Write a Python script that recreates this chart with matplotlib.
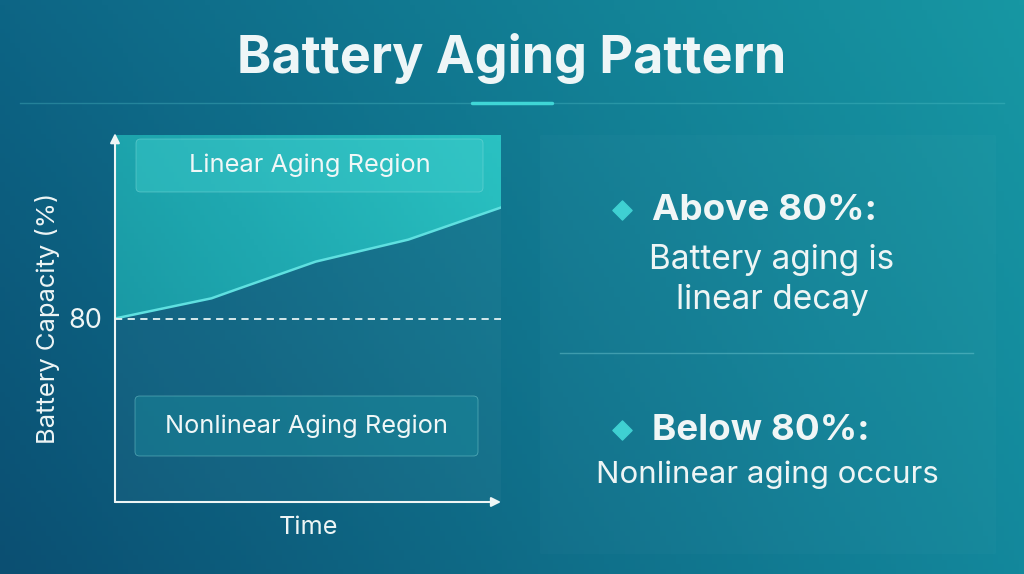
import numpy as np
import matplotlib.pyplot as plt
from matplotlib.patches import FancyBboxPatch, Rectangle, Polygon

plt.rcParams['font.family'] = ['Inter', 'DejaVu Sans']

# chart data
time = [0, 2.5, 3.1, 5.2, 7.6, 10]
capacity = [80, 82.2, 83.1, 86.2, 88.6, 92.1]
threshold = 80
y_range = (60, 100)
x_range = (0, 10)

title = "Battery Aging Pattern"
region_labels = ["Linear Aging Region", "Nonlinear Aging Region"]
bullet_heads = ["Above 80%:", "Below 80%:"]
bullet_texts = ["Battery aging is\nlinear decay", "Nonlinear aging occurs"]

W, H = 1024, 574
fig = plt.figure(figsize=(W / 100, H / 100), dpi=100)

# background gradient (pixel coords)
bg = fig.add_axes([0, 0, 1, 1])
bg.set_xlim(0, W)
bg.set_ylim(H, 0)
bg.axis('off')
tl, tr = np.array([13, 101, 133]), np.array([23, 151, 163])
bl, br = np.array([11, 79, 114]), np.array([19, 136, 156])
u = np.linspace(0, 1, 200)[None, :, None]
v = np.linspace(0, 1, 120)[:, None, None]
grad = (tl * (1 - u) * (1 - v) + tr * u * (1 - v) + bl * (1 - u) * v + br * u * v) / 255
bg.imshow(grad, extent=[0, W, H, 0], aspect='auto', zorder=0)

# title and separator
bg.text(W / 2, 58, title, ha='center', va='center', fontsize=37.5,
        fontweight='bold', color='#eef6f7')
bg.plot([20, 1004], [103, 103], color='#5cc9cf', lw=1, alpha=0.3)
bg.plot([472, 552], [103, 103], color='#3fd6d6', lw=2.5, solid_capstyle='round')

# right info panel
bg.add_patch(Rectangle((540, 135), 455, 418, facecolor='white', alpha=0.02,
                       edgecolor='white', lw=0.4))
bg.plot([560, 973], [353, 353], color='#7fd3da', lw=1, alpha=0.4)
for i, yc in enumerate([210, 430]):
    bg.scatter([622], [yc], marker='D', s=95, color='#3fd0d2', zorder=3)
    bg.text(652, yc, bullet_heads[i], ha='left', va='center', fontsize=26.5,
            fontweight='bold', color='#f0f6f6')
bg.text(772, 280, bullet_texts[0], ha='center', va='center', fontsize=24,
        color='#eef5f5', linespacing=1.32)
bg.text(767, 475, bullet_texts[1], ha='center', va='center', fontsize=22.5,
        color='#eef5f5')

# chart axes
x0, y0, x1, y1 = 115, 135, 501, 502
ax = fig.add_axes([x0 / W, (H - y1) / H, (x1 - x0) / W, (y1 - y0) / H])
ax.set_xlim(*x_range)
ax.set_ylim(*y_range)
ax.patch.set_alpha(0)
for s in ax.spines.values():
    s.set_visible(False)
ax.set_xticks([])
ax.set_yticks([threshold])
ax.set_yticklabels([str(threshold)], fontsize=19.5, color='#eef5f5')
ax.tick_params(axis='y', length=0, pad=9)

ax.add_patch(Rectangle((0, 0), 1, 1, transform=ax.transAxes,
                       facecolor='white', alpha=0.03, lw=0, zorder=0))

# filled region above the curve, gradient clipped to the polygon
poly_pts = list(zip(time, capacity)) + [(x_range[1], y_range[1]), (x_range[0], y_range[1])]
poly = Polygon(poly_pts, closed=True, facecolor='none', edgecolor='none')
ax.add_patch(poly)
gu = np.linspace(0, 1, 100)[None, :]
gv = np.linspace(0, 1, 60)[:, None]
c_lo = np.array([22, 150, 162]) / 255
c_hi = np.array([44, 202, 200]) / 255
mix = (0.6 * gu + 0.4 * gv)[..., None]
fill_img = c_lo * (1 - mix) + c_hi * mix
im = ax.imshow(fill_img, extent=[x_range[0], x_range[1], y_range[0], y_range[1]],
               origin='lower', aspect='auto', alpha=0.9, zorder=1)
im.set_clip_path(poly)

ax.plot(time, capacity, color='#5fe0e0', lw=1.8, zorder=3)
ax.axhline(threshold, color='#e6f3f3', lw=1.3, ls=(0, (4, 3)), zorder=3)

# axis arrows
ax.annotate('', xy=(0, 1.005), xytext=(0, 0), xycoords='axes fraction',
            arrowprops=dict(arrowstyle='-|>', color='#eef5f5', lw=1.5,
                            mutation_scale=14, shrinkA=0, shrinkB=0), zorder=5)
ax.annotate('', xy=(1.0, 0), xytext=(0, 0), xycoords='axes fraction',
            arrowprops=dict(arrowstyle='-|>', color='#eef5f5', lw=1.5,
                            mutation_scale=14, shrinkA=0, shrinkB=0), zorder=5)

ax.set_ylabel('Battery Capacity (%)', fontsize=18.4, color='#eef5f5', labelpad=6)
ax.set_xlabel('Time', fontsize=18.2, color='#eef5f5', labelpad=10)

# region label boxes
boxes = [((136 - x0) / (x1 - x0), (y1 - 192) / (y1 - y0), 347 / (x1 - x0), 53 / (y1 - y0)),
         ((135 - x0) / (x1 - x0), (y1 - 456) / (y1 - y0), 343 / (x1 - x0), 60 / (y1 - y0))]
box_colors = ['#3ccaca', '#1a8a9c']
for (bx, by, bw, bh), lab, fc in zip(boxes, region_labels, box_colors):
    ax.add_patch(FancyBboxPatch((bx, by), bw, bh, boxstyle='round,pad=0,rounding_size=0.012',
                                transform=ax.transAxes, facecolor=fc, alpha=0.45,
                                edgecolor='#8fe0e0', lw=0.6, zorder=4))
    ax.text(bx + bw / 2, by + bh / 2, lab, transform=ax.transAxes, ha='center',
            va='center', fontsize=18.3, color='#f0f7f7', zorder=6)

fig.savefig('out.png', dpi=100)
